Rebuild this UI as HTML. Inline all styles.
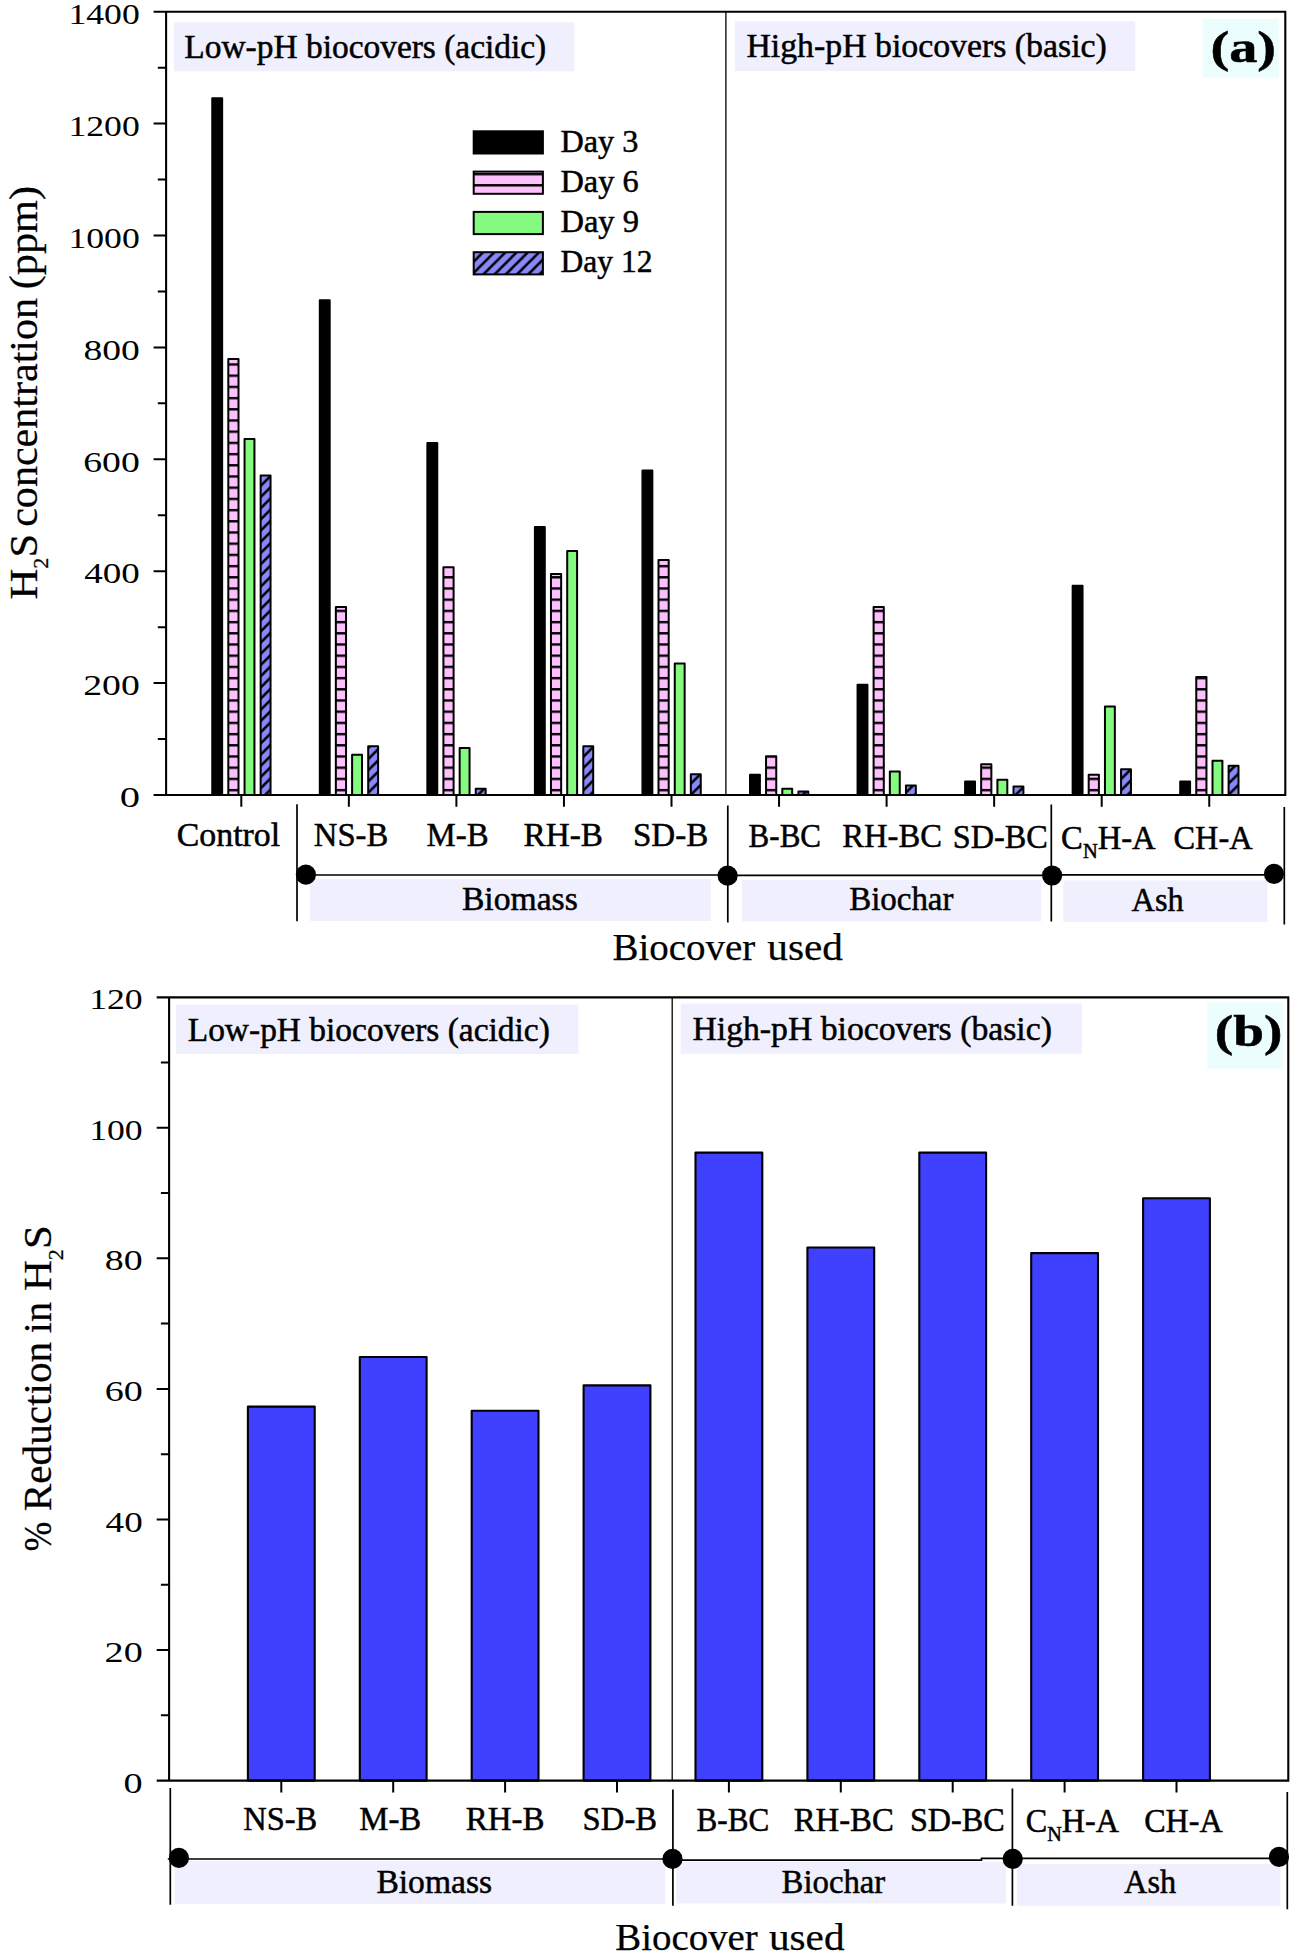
<!DOCTYPE html>
<html lang="en"><head><meta charset="utf-8"><title>Biocover H2S chart</title>
<style>
html,body{margin:0;padding:0;background:#fff}
svg{display:block}
text{font-family:"Liberation Serif", serif;fill:#000;stroke:#000;stroke-width:0.5px;font-kerning:none}
text.n{stroke:none}
text.y{stroke-width:0.25px}
</style></head><body>
<svg width="1298" height="1956" viewBox="0 0 1298 1956">
<defs>
<pattern id="ph" patternUnits="userSpaceOnUse" x="0" y="4.9" width="20" height="11.2">
<rect width="20" height="11.2" fill="#fdc0fd"/><rect y="0" width="20" height="2.4" fill="#000"/></pattern>
<pattern id="bd" patternUnits="userSpaceOnUse" x="7.35" y="0" width="11.2" height="11.2">
<rect width="11.2" height="11.2" fill="#8888fb"/>
<path d="M-2,2 L2,-2 M-2,13.2 L13.2,-2 M9.2,13.2 L13.2,9.2" stroke="#000" stroke-width="2.5" fill="none"/></pattern>
</defs>
<rect width="1298" height="1956" fill="#fff"/>

<rect x="173.8" y="22.3" width="400.6" height="49" fill="#efeffd"/>
<rect x="734.9" y="21.3" width="400.4" height="49.6" fill="#efeffd"/>
<rect x="1202.7" y="18.9" width="76.1" height="58.8" fill="#ecfdfd"/>
<g stroke="#000" stroke-width="2" stroke-linejoin="round">
<rect x="212.25" y="98.36" width="9.9" height="696.64" fill="#000"/>
<rect x="228.30" y="359.09" width="10.2" height="435.91" fill="url(#ph)"/>
<rect x="244.55" y="439.10" width="9.9" height="355.90" fill="#84fa7e"/>
<rect x="260.65" y="475.47" width="9.9" height="319.53" fill="url(#bd)"/>
<rect x="319.80" y="300.34" width="9.9" height="494.66" fill="#000"/>
<rect x="335.85" y="606.95" width="10.2" height="188.05" fill="url(#ph)"/>
<rect x="352.10" y="754.66" width="9.9" height="40.34" fill="#84fa7e"/>
<rect x="368.20" y="746.26" width="9.9" height="48.74" fill="url(#bd)"/>
<rect x="427.35" y="443.01" width="9.9" height="351.99" fill="#000"/>
<rect x="443.40" y="567.22" width="10.2" height="227.78" fill="url(#ph)"/>
<rect x="459.65" y="747.94" width="9.9" height="47.06" fill="#84fa7e"/>
<rect x="475.75" y="788.79" width="9.9" height="6.21" fill="url(#bd)"/>
<rect x="534.90" y="526.94" width="9.9" height="268.06" fill="#000"/>
<rect x="550.95" y="573.94" width="10.2" height="221.06" fill="url(#ph)"/>
<rect x="567.20" y="551.00" width="9.9" height="244.00" fill="#84fa7e"/>
<rect x="583.30" y="746.26" width="9.9" height="48.74" fill="url(#bd)"/>
<rect x="642.45" y="470.43" width="9.9" height="324.57" fill="#000"/>
<rect x="658.50" y="559.95" width="10.2" height="235.05" fill="url(#ph)"/>
<rect x="674.75" y="663.46" width="9.9" height="131.54" fill="#84fa7e"/>
<rect x="690.85" y="774.24" width="9.9" height="20.76" fill="url(#bd)"/>
<rect x="750.00" y="774.80" width="9.9" height="20.20" fill="#000"/>
<rect x="766.05" y="756.34" width="10.2" height="38.66" fill="url(#ph)"/>
<rect x="782.30" y="788.79" width="9.9" height="6.21" fill="#84fa7e"/>
<rect x="798.40" y="791.58" width="9.9" height="3.42" fill="url(#bd)"/>
<rect x="857.55" y="684.72" width="9.9" height="110.28" fill="#000"/>
<rect x="873.60" y="606.95" width="10.2" height="188.05" fill="url(#ph)"/>
<rect x="889.85" y="771.44" width="9.9" height="23.56" fill="#84fa7e"/>
<rect x="905.95" y="785.43" width="9.9" height="9.57" fill="url(#bd)"/>
<rect x="965.10" y="781.51" width="9.9" height="13.49" fill="#000"/>
<rect x="981.15" y="764.17" width="10.2" height="30.83" fill="url(#ph)"/>
<rect x="997.40" y="779.83" width="9.9" height="15.17" fill="#84fa7e"/>
<rect x="1013.50" y="786.55" width="9.9" height="8.45" fill="url(#bd)"/>
<rect x="1072.65" y="585.69" width="9.9" height="209.31" fill="#000"/>
<rect x="1088.70" y="774.80" width="10.2" height="20.20" fill="url(#ph)"/>
<rect x="1104.95" y="706.54" width="9.9" height="88.46" fill="#84fa7e"/>
<rect x="1121.05" y="769.20" width="9.9" height="25.80" fill="url(#bd)"/>
<rect x="1180.20" y="781.51" width="9.9" height="13.49" fill="#000"/>
<rect x="1196.25" y="676.89" width="10.2" height="118.11" fill="url(#ph)"/>
<rect x="1212.50" y="760.81" width="9.9" height="34.19" fill="#84fa7e"/>
<rect x="1228.60" y="765.85" width="9.9" height="29.15" fill="url(#bd)"/>
</g>
<rect x="473.7" y="131.3" width="69.2" height="22.2" fill="#000" stroke="#000" stroke-width="2"/>
<rect x="473.7" y="171.6" width="69.2" height="22.2" fill="url(#ph)" stroke="#000" stroke-width="2"/>
<rect x="473.7" y="211.9" width="69.2" height="22.2" fill="#84fa7e" stroke="#000" stroke-width="2"/>
<rect x="473.7" y="252.2" width="69.2" height="22.2" fill="url(#bd)" stroke="#000" stroke-width="2"/>
<g stroke="#000" fill="none">
<path d="M153.6,11.8 H1286.3 M166.1,11.8 V795.0 M1285.3,11.8 V795.0 M153.6,795.0 H1286.3" stroke-width="2.1"/>
<path d="M725.9,11.8 V795.0" stroke-width="1.3"/>
<path d="M153.6,683.10 H166.1 M153.6,571.20 H166.1 M153.6,459.30 H166.1 M153.6,347.40 H166.1 M153.6,235.50 H166.1 M153.6,123.60 H166.1 M157.79999999999998,739.05 H166.1 M157.79999999999998,627.15 H166.1 M157.79999999999998,515.25 H166.1 M157.79999999999998,403.35 H166.1 M157.79999999999998,291.45 H166.1 M157.79999999999998,179.55 H166.1 M157.79999999999998,67.65 H166.1 M241.30,795.0 V806.8 M348.85,795.0 V806.8 M456.40,795.0 V806.8 M563.95,795.0 V806.8 M671.50,795.0 V806.8 M779.05,795.0 V806.8 M886.60,795.0 V806.8 M994.15,795.0 V806.8 M1101.70,795.0 V806.8 M1209.25,795.0 V806.8" stroke-width="2"/>
</g>
<text x="119.65" y="807.2" font-size="29" textLength="20.29" lengthAdjust="spacingAndGlyphs" class="n">0</text>
<text x="83.24" y="695.3" font-size="29" textLength="56.60" lengthAdjust="spacingAndGlyphs" class="n">200</text>
<text x="84.18" y="583.4" font-size="29" textLength="55.64" lengthAdjust="spacingAndGlyphs" class="n">400</text>
<text x="83.28" y="471.5" font-size="29" textLength="56.56" lengthAdjust="spacingAndGlyphs" class="n">600</text>
<text x="83.47" y="359.6" font-size="29" textLength="56.36" lengthAdjust="spacingAndGlyphs" class="n">800</text>
<text x="68.47" y="247.7" font-size="29" textLength="71.29" lengthAdjust="spacingAndGlyphs" class="n">1000</text>
<text x="68.47" y="135.8" font-size="29" textLength="71.29" lengthAdjust="spacingAndGlyphs" class="n">1200</text>
<text x="68.47" y="23.9" font-size="29" textLength="71.29" lengthAdjust="spacingAndGlyphs" class="n">1400</text>
<text transform="translate(36.9,599.53) rotate(-90)" class="y" font-size="40.5" textLength="65.68" lengthAdjust="spacingAndGlyphs">H<tspan font-size="21" dy="11.5">2</tspan><tspan dy="-11.5">S</tspan></text>
<text transform="translate(36.9,526.80) rotate(-90)" class="y" font-size="40.5" textLength="228.94" lengthAdjust="spacingAndGlyphs">concentration</text>
<text transform="translate(36.9,289.26) rotate(-90)" class="y" font-size="40.5" textLength="103.21" lengthAdjust="spacingAndGlyphs">(ppm)</text>
<text x="184.34" y="57.5" font-size="33.5" textLength="361.93" lengthAdjust="spacingAndGlyphs">Low-pH biocovers (acidic)</text>
<text x="746.43" y="57.4" font-size="33.5" textLength="360.36" lengthAdjust="spacingAndGlyphs">High-pH biocovers (basic)</text>
<text x="1210.43" y="61.7" font-size="44" textLength="65.65" lengthAdjust="spacingAndGlyphs" font-weight="bold">(a)</text>
<text x="560.47" y="151.5" font-size="31.5" textLength="77.89" lengthAdjust="spacingAndGlyphs">Day 3</text>
<text x="560.47" y="191.8" font-size="31.5" textLength="78.09" lengthAdjust="spacingAndGlyphs">Day 6</text>
<text x="560.46" y="232.1" font-size="31.5" textLength="78.47" lengthAdjust="spacingAndGlyphs">Day 9</text>
<text x="560.49" y="272.4" font-size="31.5" textLength="91.95" lengthAdjust="spacingAndGlyphs">Day 12</text>
<text x="176.81" y="846.0" font-size="33.5" textLength="103.36" lengthAdjust="spacingAndGlyphs">Control</text>
<text x="313.86" y="846.3" font-size="33.5" textLength="74.44" lengthAdjust="spacingAndGlyphs">NS-B</text>
<text x="426.55" y="846.3" font-size="33.5" textLength="62.15" lengthAdjust="spacingAndGlyphs">M-B</text>
<text x="523.54" y="846.3" font-size="33.5" textLength="79.48" lengthAdjust="spacingAndGlyphs">RH-B</text>
<text x="632.99" y="846.3" font-size="33.5" textLength="75.33" lengthAdjust="spacingAndGlyphs">SD-B</text>
<text x="748.61" y="847.0" font-size="33.5" textLength="72.41" lengthAdjust="spacingAndGlyphs">B-BC</text>
<text x="842.26" y="847.0" font-size="33.5" textLength="99.64" lengthAdjust="spacingAndGlyphs">RH-BC</text>
<text x="952.84" y="847.5" font-size="33.5" textLength="95.04" lengthAdjust="spacingAndGlyphs">SD-BC</text>
<text x="1173.47" y="849.3" font-size="33.5" textLength="79.17" lengthAdjust="spacingAndGlyphs">CH-A</text>
<text x="1061.1" y="848.6" font-size="33.5" textLength="94.6" lengthAdjust="spacingAndGlyphs">C<tspan font-size="21" dy="9.6">N</tspan><tspan dy="-9.6">H-A</tspan></text>
<rect x="309.9" y="879" width="400.8" height="41.9" fill="#efeffd"/>
<rect x="742.1" y="879.9" width="299.1" height="41.4" fill="#efeffd"/>
<rect x="1063.3" y="880.4" width="204.1" height="41.6" fill="#efeffd"/>
<g stroke="#000" stroke-width="1.7" fill="none">
<path d="M297,804.3 V921.3 M727.8,805.4 V922.5 M1051.3,804.5 V921.6 M1284.3,807 V924.5 M305.9,875 H727.6 M727.6,875.4 H1052 M1052,874.9 H1274"/>
</g>
<circle cx="305.9" cy="874.7" r="10.1"/>
<circle cx="727.6" cy="875.7" r="10.1"/>
<circle cx="1052.1" cy="875.5" r="10.1"/>
<circle cx="1274" cy="873.8" r="10.1"/>
<text x="461.93" y="909.9" font-size="33.5" textLength="115.88" lengthAdjust="spacingAndGlyphs">Biomass</text>
<text x="849.15" y="909.9" font-size="33.5" textLength="104.34" lengthAdjust="spacingAndGlyphs">Biochar</text>
<text x="1131.58" y="910.6" font-size="33.5" textLength="52.14" lengthAdjust="spacingAndGlyphs">Ash</text>
<text x="612.48" y="960.1" font-size="38" textLength="142.87" lengthAdjust="spacingAndGlyphs" class="y">Biocover</text>
<text x="767.36" y="960.1" font-size="38" textLength="75.55" lengthAdjust="spacingAndGlyphs" class="y">used</text>
<rect x="176.2" y="1004.6" width="402.2" height="49.3" fill="#efeffd"/>
<rect x="680.6" y="1003.7" width="401.2" height="50" fill="#efeffd"/>
<rect x="1207.3" y="1002.3" width="75.4" height="66.3" fill="#ecfdfd"/>
<g stroke="#000" stroke-width="2.1" fill="#4040ff" stroke-linejoin="round">
<rect x="247.90" y="1406.60" width="66.8" height="374.00"/>
<rect x="359.80" y="1357.00" width="66.8" height="423.60"/>
<rect x="471.70" y="1410.80" width="66.8" height="369.80"/>
<rect x="583.60" y="1385.40" width="66.8" height="395.20"/>
<rect x="695.50" y="1152.60" width="66.8" height="628.00"/>
<rect x="807.40" y="1247.50" width="66.8" height="533.10"/>
<rect x="919.30" y="1152.60" width="66.8" height="628.00"/>
<rect x="1031.20" y="1253.10" width="66.8" height="527.50"/>
<rect x="1143.10" y="1198.30" width="66.8" height="582.30"/>
</g>
<g stroke="#000" fill="none">
<path d="M156.7,997.4 H1289.3 M169.1,997.4 V1780.6 M1288.3,997.4 V1780.6 M156.7,1780.6 H1289.3" stroke-width="2.1"/>
<path d="M672.2,997.4 V1780.6" stroke-width="1.3"/>
<path d="M156.7,1650.03 H169.1 M156.7,1519.47 H169.1 M156.7,1388.90 H169.1 M156.7,1258.33 H169.1 M156.7,1127.77 H169.1 M160.9,1715.32 H169.1 M160.9,1584.75 H169.1 M160.9,1454.18 H169.1 M160.9,1323.62 H169.1 M160.9,1193.05 H169.1 M160.9,1062.48 H169.1 M281.30,1780.6 V1792.3999999999999 M393.20,1780.6 V1792.3999999999999 M505.10,1780.6 V1792.3999999999999 M617.00,1780.6 V1792.3999999999999 M728.90,1780.6 V1792.3999999999999 M840.80,1780.6 V1792.3999999999999 M952.70,1780.6 V1792.3999999999999 M1064.60,1780.6 V1792.3999999999999 M1176.50,1780.6 V1792.3999999999999" stroke-width="2"/>
</g>
<text x="123.64" y="1792.6" font-size="29" textLength="19.11" lengthAdjust="spacingAndGlyphs" class="n">0</text>
<text x="104.62" y="1662.0" font-size="29" textLength="38.13" lengthAdjust="spacingAndGlyphs" class="n">20</text>
<text x="105.57" y="1531.5" font-size="29" textLength="37.14" lengthAdjust="spacingAndGlyphs" class="n">40</text>
<text x="104.66" y="1400.9" font-size="29" textLength="38.09" lengthAdjust="spacingAndGlyphs" class="n">60</text>
<text x="104.86" y="1270.3" font-size="29" textLength="37.89" lengthAdjust="spacingAndGlyphs" class="n">80</text>
<text x="89.17" y="1139.8" font-size="29" textLength="53.49" lengthAdjust="spacingAndGlyphs" class="n">100</text>
<text x="89.17" y="1009.2" font-size="29" textLength="53.49" lengthAdjust="spacingAndGlyphs" class="n">120</text>
<text transform="translate(51.2,1551.21) rotate(-90)" class="y" font-size="40.5" textLength="29.52" lengthAdjust="spacingAndGlyphs">%</text>
<text transform="translate(51.2,1511.19) rotate(-90)" class="y" font-size="40.5" textLength="169.41" lengthAdjust="spacingAndGlyphs">Reduction</text>
<text transform="translate(51.2,1333.24) rotate(-90)" class="y" font-size="40.5" textLength="31.15" lengthAdjust="spacingAndGlyphs">in</text>
<text transform="translate(51.2,1291.03) rotate(-90)" class="y" font-size="40.5" textLength="65.79" lengthAdjust="spacingAndGlyphs">H<tspan font-size="21" dy="11.5">2</tspan><tspan dy="-11.5">S</tspan></text>
<text x="187.74" y="1040.9" font-size="33.5" textLength="362.03" lengthAdjust="spacingAndGlyphs">Low-pH biocovers (acidic)</text>
<text x="692.43" y="1040.2" font-size="33.5" textLength="359.45" lengthAdjust="spacingAndGlyphs">High-pH biocovers (basic)</text>
<text x="1214.87" y="1046.2" font-size="44" textLength="67.56" lengthAdjust="spacingAndGlyphs" font-weight="bold">(b)</text>
<text x="243.26" y="1830.0" font-size="33.5" textLength="74.02" lengthAdjust="spacingAndGlyphs">NS-B</text>
<text x="359.15" y="1830.0" font-size="33.5" textLength="62.15" lengthAdjust="spacingAndGlyphs">M-B</text>
<text x="465.65" y="1830.0" font-size="33.5" textLength="78.86" lengthAdjust="spacingAndGlyphs">RH-B</text>
<text x="582.61" y="1830.0" font-size="33.5" textLength="74.48" lengthAdjust="spacingAndGlyphs">SD-B</text>
<text x="696.60" y="1830.5" font-size="33.5" textLength="72.61" lengthAdjust="spacingAndGlyphs">B-BC</text>
<text x="793.66" y="1830.8" font-size="33.5" textLength="100.15" lengthAdjust="spacingAndGlyphs">RH-BC</text>
<text x="909.95" y="1830.8" font-size="33.5" textLength="94.83" lengthAdjust="spacingAndGlyphs">SD-BC</text>
<text x="1144.18" y="1831.9" font-size="33.5" textLength="78.55" lengthAdjust="spacingAndGlyphs">CH-A</text>
<text x="1025.7" y="1831.5" font-size="33.5" textLength="93.3" lengthAdjust="spacingAndGlyphs">C<tspan font-size="21" dy="9.6">N</tspan><tspan dy="-9.6">H-A</tspan></text>
<rect x="174.7" y="1861" width="490.6" height="43" fill="#efeffd"/>
<rect x="676.4" y="1862" width="329.4" height="41.5" fill="#efeffd"/>
<rect x="1016.9" y="1864" width="263.5" height="41.7" fill="#efeffd"/>
<g stroke="#000" stroke-width="1.7" fill="none">
<path d="M170.3,1788 V1904.7 M672.9,1789.6 V1905.7 M1012.4,1788.5 V1905.7 M1287.3,1792 V1909.2 M167.8,1859 H672.5 M672.5,1860.2 H981.5 V1858.3 H1279"/>
</g>
<circle cx="178.9" cy="1857.9" r="10.1"/>
<circle cx="672.5" cy="1858.9" r="10.1"/>
<circle cx="1012.7" cy="1858.9" r="10.1"/>
<circle cx="1279" cy="1856.9" r="10.1"/>
<text x="376.43" y="1893.4" font-size="33.5" textLength="115.58" lengthAdjust="spacingAndGlyphs">Biomass</text>
<text x="781.56" y="1893.0" font-size="33.5" textLength="103.73" lengthAdjust="spacingAndGlyphs">Biochar</text>
<text x="1124.08" y="1892.6" font-size="33.5" textLength="52.04" lengthAdjust="spacingAndGlyphs">Ash</text>
<text x="615.28" y="1949.5" font-size="38" textLength="142.56" lengthAdjust="spacingAndGlyphs" class="y">Biocover</text>
<text x="768.96" y="1949.5" font-size="38" textLength="75.55" lengthAdjust="spacingAndGlyphs" class="y">used</text>
</svg></body></html>
